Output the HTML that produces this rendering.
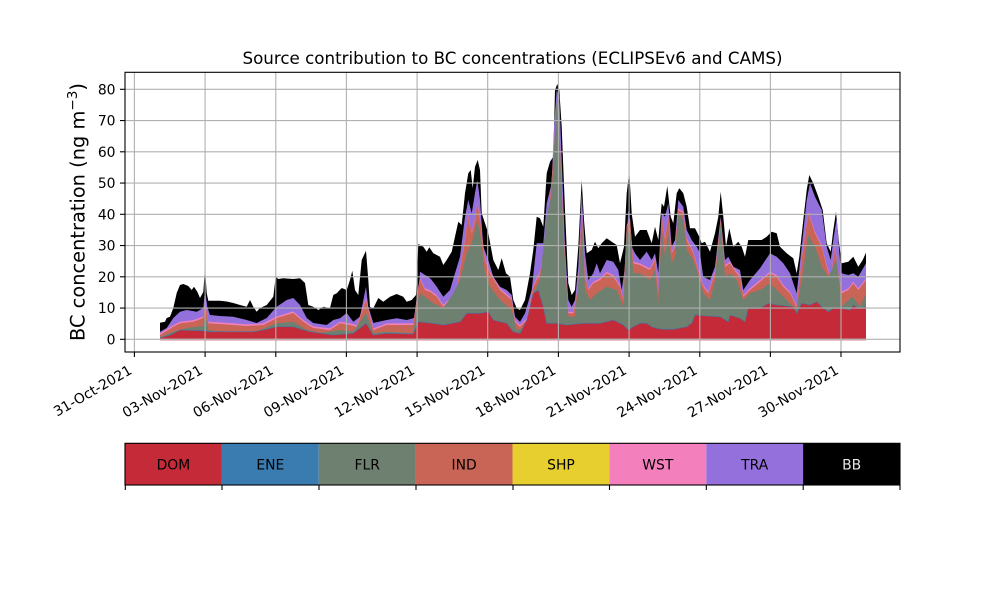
<!DOCTYPE html>
<html><head><meta charset="utf-8"><style>
html,body{margin:0;padding:0;background:#fff;}
svg{display:block;font-family:"DejaVu Sans","Liberation Sans",sans-serif;}
</style></head><body>
<svg width="1000" height="600" viewBox="0 0 1000 600" xmlns="http://www.w3.org/2000/svg">
<rect x="0" y="0" width="1000" height="600" fill="#fff"/>
<!-- BB total -->
<polygon fill="#000" points="160,339.3 160,322.7 165,321.7 166.7,318 170,316.7 173.3,308 176.7,293 180,285 183.3,284 188.3,286 191.7,290 194,286.7 197.3,291.7 200,298 203.3,292 205,267 206.7,293 208.3,300.7 220,300.7 226.7,301.5 233.3,303 240,305 246.7,306.7 250,300 253.3,306.7 256.7,311.7 260,308 266.7,305 273.3,296.7 275.7,276.7 278.3,279 283.3,278.3 293.3,279 300,278.3 305,283 308.3,305 313.3,306.7 318.3,310 323.3,306.7 330,308 333.3,295 336.7,293.3 341.7,288 346.7,290 350,280 352.3,270.7 355,290 358.3,295 361.7,260 366,250.7 368.3,280 370,306.7 373.3,308.3 378.3,298 383.3,301.7 390,296.7 396.7,294 403.3,296.7 406.7,301.7 411.7,300 416,295 418.3,244 423.3,246.7 426.7,251.7 429.3,247.3 433.3,253.3 440,256.7 443.3,265 446.7,260 451.7,251.7 455,236.7 458.3,221.7 461.7,225 465,193.3 468.3,173.3 470.7,170 472.7,188.3 475,166.7 477.7,160 480,170 481.7,213.3 485,223.3 488.3,233.3 493.3,260 498.3,270 501.7,258.3 506,273.3 510,276.7 513.3,300 516.7,308.3 520,310 525,300 530,273.3 533.3,250 536.7,216.7 540,218.3 543.3,226.7 546.7,173.3 550,161.7 553.3,156.7 555,90 557.3,84 559.3,90 561.7,126.7 565,210 568.3,283.3 571.7,295 575,290 578.3,246.7 581.7,180 584,220 586.7,253.3 591.7,250 595,241.7 598.3,248.3 601.7,243.3 606.7,238.3 611.7,241.7 616.7,245 620,263.3 624,246.7 626.7,193.3 629.3,171.7 631.7,213.3 635,236.7 640,230 646.7,230 651.7,243.3 655,226.7 658.3,240 661.7,203.3 664,206.7 667.3,186 670.7,216.7 673.3,223.3 676.7,193.3 679.3,188.3 683.3,193.3 686.7,206.7 690,228.3 695,228.3 699.3,236.7 701.7,243.3 705,241.7 710,251.7 715,233.3 718.3,216.7 720.7,191.7 723.3,216.7 726,246.7 729.3,228.3 733.3,246.7 738.3,241.7 741.7,246.7 745,256.7 748.3,240 755,240 761.7,240 766.7,236.7 771.7,231.7 776.7,233.3 780,246.7 786.7,253.3 793.3,258.3 796.7,273.3 799.3,256.7 803.3,220 806.7,190 809.3,175 813.3,183.3 818.3,196.7 822.7,210 826.7,243.3 830.7,251.7 833.3,230 836,211.7 838.7,240 841.7,263.3 848.3,261.7 853.3,256.7 858.3,266.7 862.7,260 866,252.7 866,339.3"/>
<!-- TRA -->
<polygon fill="#9370db" points="160,339.3 160,331.7 166.7,328 173.3,318 180,311.7 186.7,310 196.7,311.7 203.3,308 205,290 207.3,306.7 210,315 220,316 233.3,316.7 246.7,320 256.7,323 266.7,318 276.7,306.7 286.7,300 293.3,298 300,305 306.7,318 313.3,323 326.7,325 333.3,320 340,318.3 346.7,313 353.3,321.7 360,316.7 366,286.7 368.3,306.7 373.3,323 386.7,320 396.7,318.3 406.7,320 416.7,317.3 420,271.7 425,275 428.3,276.7 431.7,280 436.7,286.7 443.3,296.7 450,290 455,273.3 460,256.7 465,216.7 468.3,200 471.7,213.3 475,193.3 477.3,180 480,200 483.3,246.7 488.3,260 493.3,276.7 500,286.7 506.7,290 511.7,295 515,316.7 520,321.7 525,313.3 531.7,290 536.7,243.3 543.3,243.3 546.7,203.3 551.7,183.3 554,126.7 556.7,90 559.3,96.7 561.7,160 565,246.7 568.3,300 571.7,306.7 575,300 578.3,266.7 581.7,193.3 585,253.3 588.3,280 593.3,273.3 596.7,263.3 600,273.3 606.7,260 613.3,261.7 618.3,270 621.7,290 625,266.7 628.3,210 631.7,246.7 635,253.3 640,260 646.7,251.7 651.7,260 655,253.3 658.3,273 661.7,213 665,216.7 668.3,203 671.7,246.7 675,240 678.3,200 683.3,206.7 686.7,230 691.7,240 696.7,246.7 700,253.3 703.3,276.7 710,280 715,266.7 720.7,216.7 725,260 728.3,256.7 733.3,266.7 740,270 743.3,290 750,280 760,268.3 770,253.3 776.7,256.7 783.3,263.3 790,273.3 796.7,293.3 801.7,246.7 806.7,200 810,183.3 815,196.7 821.7,210 826.7,246.7 830.7,260 833.3,240 836.7,218.3 840,260 841.7,273.3 848.3,275 853.3,273.3 858.3,276.7 866,263.3 866,339.3"/>
<!-- WST (pink thin) -->
<g transform="translate(0,-1.6)">
<polygon fill="#f47fbd" points="160,340.9 160,335 173.3,326.7 180,323.3 193.3,321.7 203.3,318 205,303 208.3,323.3 220,324 246.7,326 263.3,325 276.7,318 286.7,315 293.3,313 303.3,321.7 313.3,328 330,330 340,323.3 350,325 356.7,326.7 366,300 373.3,330 386.7,325 400,325 413.3,325 418.3,288 420,280 425,290 430,291.7 436.7,296.7 443.3,306.7 450,300 456.7,290 465,240 468.3,216.7 471.7,233.3 475,220 477.3,203.3 480,220 485,260 490,273.3 500,290 511.7,300 515,321.7 520,326.7 526.7,320 533.3,286.7 540,273.3 545,246.7 550,200 553.3,160 556.7,103.3 559.3,126.7 563.3,226.7 568.3,313.3 573.3,313.3 578.3,286.7 581.7,210 585,276.7 588.3,290 593.3,283.3 600,280 606.7,273.3 613.3,276.7 620,286.7 623.3,300 626.7,226.7 630,220 633.3,263.3 640,265 650,270 655,260 658.3,293.3 661.7,216.7 665,240 668.3,216.7 671.7,253.3 675,246.7 678.3,210 683.3,213.3 686.7,240 693.3,253.3 700,276.7 703.3,286.7 708.3,293.3 715,273.3 720.7,220 725,266.7 730,263.3 736.7,273.3 740,276.7 743.3,296.7 750,290 760,281.7 770,273.3 776.7,276.7 783.3,286.7 790,293.3 796.7,306.7 801.7,260 808.3,213.3 815,233.3 821.7,246.7 826.7,266.7 830.7,280 835,246.7 838.3,273.3 841.7,293.3 848.3,290 853.3,283.3 858.3,290 866,280 866,340.9"/>
</g>
<!-- IND -->
<polygon fill="#c96556" points="160,339.3 160,335 173.3,326.7 180,323.3 193.3,321.7 203.3,318 205,303 208.3,323.3 220,324 246.7,326 263.3,325 276.7,318 286.7,315 293.3,313 303.3,321.7 313.3,328 330,330 340,323.3 350,325 356.7,326.7 366,300 373.3,330 386.7,325 400,325 413.3,325 418.3,288 420,280 425,290 430,291.7 436.7,296.7 443.3,306.7 450,300 456.7,290 465,240 468.3,216.7 471.7,233.3 475,220 477.3,203.3 480,220 485,260 490,273.3 500,290 511.7,300 515,321.7 520,326.7 526.7,320 533.3,286.7 540,273.3 545,246.7 550,200 553.3,160 556.7,103.3 559.3,126.7 563.3,226.7 568.3,313.3 573.3,313.3 578.3,286.7 581.7,210 585,276.7 588.3,290 593.3,283.3 600,280 606.7,273.3 613.3,276.7 620,286.7 623.3,300 626.7,226.7 630,220 633.3,263.3 640,265 650,270 655,260 658.3,293.3 661.7,216.7 665,240 668.3,216.7 671.7,253.3 675,246.7 678.3,210 683.3,213.3 686.7,240 693.3,253.3 700,276.7 703.3,286.7 708.3,293.3 715,273.3 720.7,220 725,266.7 730,263.3 736.7,273.3 740,276.7 743.3,296.7 750,290 760,281.7 770,273.3 776.7,276.7 783.3,286.7 790,293.3 796.7,306.7 801.7,260 808.3,213.3 815,233.3 821.7,246.7 826.7,266.7 830.7,280 835,246.7 838.3,273.3 841.7,293.3 848.3,290 853.3,283.3 858.3,290 866,280 866,339.3"/>
<!-- FLR -->
<polygon fill="#6e8070" points="160,339.3 160,337.3 173.3,331.7 186.7,328 203.3,326 205,313 208.3,330 220,331.7 253.3,332.7 276.7,323.3 293.3,321.7 306.7,330 320,333 340,330 353.3,331.7 366,313 373.3,333.3 386.7,331.7 413.3,333.3 418.3,298 420,293.3 426.7,298.3 433.3,303.3 443.3,308.3 453.3,293.3 460,280 466.7,253.3 471.7,243.3 477.3,220 480,233.3 485,273.3 490,286.7 500,300 511.7,310 516.7,330 526.7,326.7 533.3,293.3 540,280 546.7,216.7 551.7,193.3 556.7,100 560,150 563.3,233.3 568.3,316.7 575,316.7 580,266.7 581.7,216.7 585,290 590,300 596.7,293.3 606.7,286.7 616.7,290 623.3,306.7 626.7,233.3 630,230 633.3,273.3 640,273.3 650,280 655,270 658.3,303.3 661.7,230 665,256.7 668.3,233.3 671.7,263.3 675,256.7 678.3,213.3 683.3,220 686.7,250 693.3,260 700,280 703.3,293.3 710,300 715,280 720.7,223.3 725,276.7 730,273.3 736.7,280 743.3,300 750,293.3 760,290 770,283.3 776.7,290 786.7,300 793.3,306.7 796.7,308.3 801.7,280 808.3,235 815,246.7 821.7,266.7 828.3,276.7 833.3,266.7 836.7,260 841.7,306.7 848.3,300 853.3,296.7 860,306.7 866,293.3 866,339.3"/>
<!-- DOM -->
<polygon fill="#c52a38" points="160,339.3 160,338 170,335 180,330 203.3,330.7 210,331.7 253.3,331.7 263.3,330 276.7,326.7 293.3,326.7 310,331.7 333.3,335 353.3,333.3 366,323.3 373.3,335 386.7,333.3 413.3,334 418.3,321.7 433.3,323.3 443.3,325 460,321.7 466.7,313.3 480,313.3 488.3,311.7 493.3,320 506.7,323.3 513.3,331.7 520,333.3 526.7,320 533.3,293.3 538.3,290 543.3,306.7 546.7,323.3 556.7,323.3 566.7,325 583.3,323.3 600,323.3 613.3,320 623.3,325 628.3,330 633.3,326.7 640,323.3 646.7,323.3 651.7,326.7 656.7,328.3 663.3,329.3 673.3,329.3 686.7,326.7 691.7,323.3 695,315 706.7,316 720,316.7 728.3,321.7 730,315 740,318.3 745,321.7 748.3,308.3 760,308.3 768.3,303.3 776.7,305 786.7,306 793.3,306.7 796.7,313.3 801.7,303.3 810,305 816.7,301.7 821.7,306.7 828.3,311.7 833.3,308.3 841.7,308.3 850,310 853.3,305 858.3,308.3 866,306.7 866,339.3"/>
<!-- ENE thin line -->
<polyline fill="none" stroke="#3a7bb0" stroke-width="0.8" stroke-opacity="0.7" points="160,338 170,335 180,330 203.3,330.7 210,331.7 253.3,331.7 263.3,330 276.7,326.7 293.3,326.7 310,331.7 333.3,335 353.3,333.3 366,323.3 373.3,335 386.7,333.3 413.3,334 418.3,321.7 433.3,323.3 443.3,325 460,321.7 466.7,313.3 480,313.3 488.3,311.7 493.3,320 506.7,323.3 513.3,331.7 520,333.3 526.7,320 533.3,293.3 538.3,290 543.3,306.7 546.7,323.3 556.7,323.3 566.7,325 583.3,323.3 600,323.3 613.3,320 623.3,325 628.3,330 633.3,326.7 640,323.3 646.7,323.3 651.7,326.7 656.7,328.3 663.3,329.3 673.3,329.3 686.7,326.7 691.7,323.3 695,315 706.7,316 720,316.7 728.3,321.7 730,315 740,318.3 745,321.7 748.3,308.3 760,308.3 768.3,303.3 776.7,305 786.7,306 793.3,306.7 796.7,313.3 801.7,303.3 810,305 816.7,301.7 821.7,306.7 828.3,311.7 833.3,308.3 841.7,308.3 850,310 853.3,305 858.3,308.3 866,306.7"/>
<!-- pink band at zero -->
<rect x="160" y="338.6" width="706" height="2" fill="#e39aa2"/>
<!-- grid -->
<g stroke="#b0b0b0" stroke-width="1.1">
<line x1="125" x2="900" y1="339.3" y2="339.3"/>
<line x1="125" x2="900" y1="308.05" y2="308.05"/>
<line x1="125" x2="900" y1="276.8" y2="276.8"/>
<line x1="125" x2="900" y1="245.55" y2="245.55"/>
<line x1="125" x2="900" y1="214.3" y2="214.3"/>
<line x1="125" x2="900" y1="183.05" y2="183.05"/>
<line x1="125" x2="900" y1="151.8" y2="151.8"/>
<line x1="125" x2="900" y1="120.55" y2="120.55"/>
<line x1="125" x2="900" y1="89.3" y2="89.3"/>
<line y1="72" y2="352" x1="134.4" x2="134.4"/>
<line y1="72" y2="352" x1="205.1" x2="205.1"/>
<line y1="72" y2="352" x1="275.8" x2="275.8"/>
<line y1="72" y2="352" x1="346.4" x2="346.4"/>
<line y1="72" y2="352" x1="417.1" x2="417.1"/>
<line y1="72" y2="352" x1="487.7" x2="487.7"/>
<line y1="72" y2="352" x1="558.4" x2="558.4"/>
<line y1="72" y2="352" x1="629.1" x2="629.1"/>
<line y1="72" y2="352" x1="699.8" x2="699.8"/>
<line y1="72" y2="352" x1="770.4" x2="770.4"/>
<line y1="72" y2="352" x1="841" x2="841"/>
</g>
<!-- axes frame -->
<rect x="125" y="72.3" width="775" height="279.7" fill="none" stroke="#000" stroke-width="1.1"/>
<!-- ticks -->
<g stroke="#000" stroke-width="1.1">
<line x1="120" x2="125" y1="339.3" y2="339.3"/>
<line x1="120" x2="125" y1="308.05" y2="308.05"/>
<line x1="120" x2="125" y1="276.8" y2="276.8"/>
<line x1="120" x2="125" y1="245.55" y2="245.55"/>
<line x1="120" x2="125" y1="214.3" y2="214.3"/>
<line x1="120" x2="125" y1="183.05" y2="183.05"/>
<line x1="120" x2="125" y1="151.8" y2="151.8"/>
<line x1="120" x2="125" y1="120.55" y2="120.55"/>
<line x1="120" x2="125" y1="89.3" y2="89.3"/>
<line y1="352" y2="357" x1="134.4" x2="134.4"/>
<line y1="352" y2="357" x1="205.1" x2="205.1"/>
<line y1="352" y2="357" x1="275.8" x2="275.8"/>
<line y1="352" y2="357" x1="346.4" x2="346.4"/>
<line y1="352" y2="357" x1="417.1" x2="417.1"/>
<line y1="352" y2="357" x1="487.7" x2="487.7"/>
<line y1="352" y2="357" x1="558.4" x2="558.4"/>
<line y1="352" y2="357" x1="629.1" x2="629.1"/>
<line y1="352" y2="357" x1="699.8" x2="699.8"/>
<line y1="352" y2="357" x1="770.4" x2="770.4"/>
<line y1="352" y2="357" x1="841" x2="841"/>
</g>
<!-- y tick labels -->
<g font-size="13.9" text-anchor="end" fill="#000">
<text x="115.5" y="344.3">0</text>
<text x="115.5" y="313.05">10</text>
<text x="115.5" y="281.8">20</text>
<text x="115.5" y="250.55">30</text>
<text x="115.5" y="219.3">40</text>
<text x="115.5" y="188.05">50</text>
<text x="115.5" y="156.8">60</text>
<text x="115.5" y="125.55">70</text>
<text x="115.5" y="94.3">80</text>
</g>
<!-- x tick labels -->
<g font-size="13.9" text-anchor="end" fill="#000">
<text transform="translate(132.9,373) rotate(-30)">31-Oct-2021</text>
<text transform="translate(203.6,373) rotate(-30)">03-Nov-2021</text>
<text transform="translate(274.3,373) rotate(-30)">06-Nov-2021</text>
<text transform="translate(344.9,373) rotate(-30)">09-Nov-2021</text>
<text transform="translate(415.6,373) rotate(-30)">12-Nov-2021</text>
<text transform="translate(486.2,373) rotate(-30)">15-Nov-2021</text>
<text transform="translate(556.9,373) rotate(-30)">18-Nov-2021</text>
<text transform="translate(627.6,373) rotate(-30)">21-Nov-2021</text>
<text transform="translate(698.3,373) rotate(-30)">24-Nov-2021</text>
<text transform="translate(768.9,373) rotate(-30)">27-Nov-2021</text>
<text transform="translate(839.5,373) rotate(-30)">30-Nov-2021</text>
</g>
<!-- title -->
<text x="512.5" y="64" font-size="16.7" text-anchor="middle" fill="#000">Source contribution to BC concentrations (ECLIPSEv6 and CAMS)</text>
<!-- y label -->
<text transform="translate(84.5,212) rotate(-90)" font-size="19.4" text-anchor="middle" fill="#000">BC concentration (ng m<tspan dy="-7.5" font-size="13.6">−3</tspan><tspan dy="7.5">)</tspan></text>
<!-- colorbar -->
<rect x="125" y="443.3" width="96.9" height="41.7" fill="#c52a38"/>
<rect x="221.9" y="443.3" width="96.9" height="41.7" fill="#3a7bb0"/>
<rect x="318.8" y="443.3" width="96.9" height="41.7" fill="#6e8070"/>
<rect x="415.6" y="443.3" width="96.9" height="41.7" fill="#c96556"/>
<rect x="512.5" y="443.3" width="96.9" height="41.7" fill="#e6cf2f"/>
<rect x="609.4" y="443.3" width="96.9" height="41.7" fill="#f47fbd"/>
<rect x="706.3" y="443.3" width="96.9" height="41.7" fill="#9370db"/>
<rect x="803.1" y="443.3" width="96.9" height="41.7" fill="#000"/>
<rect x="125" y="443.3" width="775" height="41.7" fill="none" stroke="#000" stroke-width="1.1"/>
<g stroke="#000" stroke-width="1.1">
<line x1="125.3" x2="125.3" y1="485" y2="490"/>
<line x1="222" x2="222" y1="485" y2="490"/>
<line x1="319" x2="319" y1="485" y2="490"/>
<line x1="416" x2="416" y1="485" y2="490"/>
<line x1="513" x2="513" y1="485" y2="490"/>
<line x1="609.5" x2="609.5" y1="485" y2="490"/>
<line x1="706.3" x2="706.3" y1="485" y2="490"/>
<line x1="803.2" x2="803.2" y1="485" y2="490"/>
<line x1="900" x2="900" y1="485" y2="490"/>
</g>
<g font-size="13.9" text-anchor="middle" fill="#000">
<text x="173.4" y="469.3">DOM</text>
<text x="270.3" y="469.3">ENE</text>
<text x="367.2" y="469.3">FLR</text>
<text x="464.1" y="469.3">IND</text>
<text x="561" y="469.3">SHP</text>
<text x="657.8" y="469.3">WST</text>
<text x="754.7" y="469.3">TRA</text>
<text x="851.6" y="469.3" fill="#e8e8e8">BB</text>
</g>
</svg>
</body></html>
